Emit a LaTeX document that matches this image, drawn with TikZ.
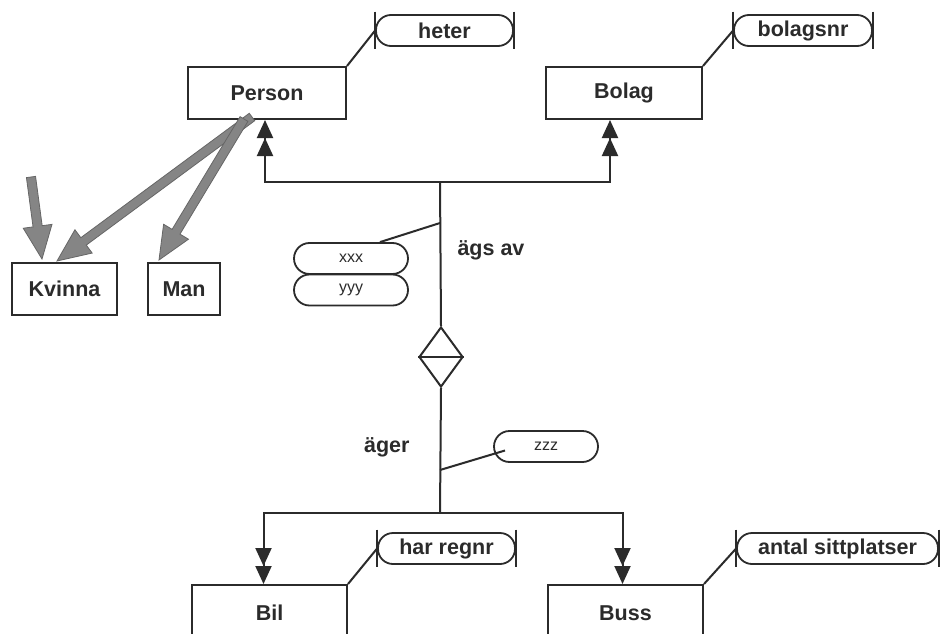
\documentclass[tikz,border=0pt]{standalone}
\usepackage{fontspec}
\setmainfont{Liberation Sans}
\usetikzlibrary{arrows.meta,shapes.geometric,calc}

\definecolor{ink}{HTML}{2B2B2B}
\definecolor{shade}{HTML}{858585}
\definecolor{shadeedge}{HTML}{666666}

\tikzset{
  lbl/.style={font=\bfseries\fontsize{21.5}{25}\selectfont, text=ink},
  small/.style={font=\fontsize{16}{18}\selectfont, text=ink},
  entity/.style={lbl, draw=ink, line width=2pt, inner sep=0pt},
  pill/.style={lbl, draw=ink, line width=1.8pt, rounded corners=15pt,
               minimum height=31pt, inner sep=0pt},
  opill/.style={small, draw=ink, line width=1.8pt, rounded corners=15.5pt,
               minimum height=31pt, inner sep=0pt},
  conn/.style={draw=ink, line width=2pt},
  dbl/.style={conn, -{Triangle[length=18pt,width=16pt] Triangle[length=18pt,width=16pt]}},
  grayfill/.style={fill=shade, draw=shadeedge, line width=0.8pt, line join=miter},
}

% attribute bars on both ends of a pill
\newcommand{\bars}[1]{%
  \draw[conn] ([yshift=2.5pt]#1.north west) -- ([yshift=-2.5pt]#1.south west);
  \draw[conn] ([yshift=2.5pt]#1.north east) -- ([yshift=-2.5pt]#1.south east);}

% broad grey arrow from coordinate #1 to coordinate #2
\newcommand{\broadarrow}[2]{%
  \coordinate (hb) at ($(#2)!33pt!(#1)$);
  \filldraw[grayfill]
    ($(#1)!4.6pt!90:(#2)$) -- ($(hb)!4.6pt!90:(#2)$) -- ($(hb)!14.5pt!90:(#2)$)
    -- (#2) -- ($(hb)!14.5pt!-90:(#2)$) -- ($(hb)!4.6pt!-90:(#2)$)
    -- ($(#1)!4.6pt!-90:(#2)$) -- cycle;}

\begin{document}
\begin{tikzpicture}[x=1pt,y=-1pt]
\useasboundingbox (0,0) rectangle (950,634);
\clip (0,0) rectangle (950,634);
\fill[white] (0,0) rectangle (950,634);

% entities
\node[entity, minimum width=158pt, minimum height=52pt] (Person) at (267,93) {Person};
\node[entity, minimum width=156pt, minimum height=52pt] (Bolag) at (624,93) {Bolag};
\node[entity, minimum width=105pt, minimum height=52pt] (Kvinna) at (64.5,289) {Kvinna};
\node[entity, minimum width=72pt, minimum height=52pt] (Man) at (184,289) {Man};
\node[entity, minimum width=155pt, minimum height=56pt] (Bil) at (269.5,613) {Bil};
\node[entity, minimum width=155pt, minimum height=56pt] (Buss) at (625.5,613) {Buss};

% identifying attributes
\node[pill, minimum width=137pt] (heter) at (444.5,30.5) {heter};
\node[pill, minimum width=138pt] (bolagsnr) at (803,30.5) {bolagsnr};
\node[pill, minimum width=137pt] (regnr) at (446.5,548.5) {har regnr};
\node[pill, minimum width=201pt] (platser) at (837.5,548.5) {antal sittplatser};
\bars{heter}
\bars{bolagsnr}
\bars{regnr}
\bars{platser}

\draw[conn] (Person.north east) -- (heter.west);
\draw[conn] (Bolag.north east) -- (bolagsnr.west);
\draw[conn] (Bil.north east) -- (regnr.west);
\draw[conn] (Buss.north east) -- (platser.west);

% relationship
\node[draw=ink, line width=2pt, shape=diamond, inner sep=0pt,
      minimum width=44pt, minimum height=60pt] (rel) at (441,357) {};
\draw[conn] (rel.west) -- (rel.east);

\coordinate (jt) at (440,182);
\coordinate (jb) at (440,513);
\coordinate (ja) at (440,223);
\coordinate (jz) at (440,470);

\draw[conn] (jt) -- (rel.north);
\draw[conn] (rel.south) -- (jb);
\draw[dbl] (jt) -| ([xshift=-2pt]Person.south);
\draw[dbl] (jt) -| ([xshift=-14pt]Bolag.south);
\draw[dbl] (jb) -| ([xshift=-6pt]Bil.north);
\draw[dbl] (jb) -| ([xshift=-3pt]Buss.north);

\node[lbl, anchor=west] (agsav) at (454,250) {ägs av};
\node[lbl, anchor=east] (ager) at (413,447) {äger};

% relationship attributes
\node[opill, minimum width=114pt] (xxx) at (351,258.5) {xxx};
\node[opill, minimum width=114pt] (yyy) at (351,290) {yyy};
\node[opill, minimum width=104pt] (zzz) at (546,446.5) {zzz};
\draw[conn] (ja) -- ([xshift=29pt]xxx.north);
\draw[conn] (jz) -- ([xshift=-41pt,yshift=-4pt]zzz.center);

% subtype arrows
\coordinate (free) at (31,177);
\coordinate (k0) at ($(Person.south west)+(65,-3)$);
\coordinate (k1) at ($(Kvinna.north west)+(46,-1)$);
\coordinate (m0) at ($(Person.south west)+(57,-1)$);
\coordinate (m1) at ($(Man.north west)+(12,-2)$);
\coordinate (f1) at ($(Kvinna.north west)+(31,-3)$);
\broadarrow{k0}{k1}
\broadarrow{m0}{m1}
\broadarrow{free}{f1}
\end{tikzpicture}
\end{document}
